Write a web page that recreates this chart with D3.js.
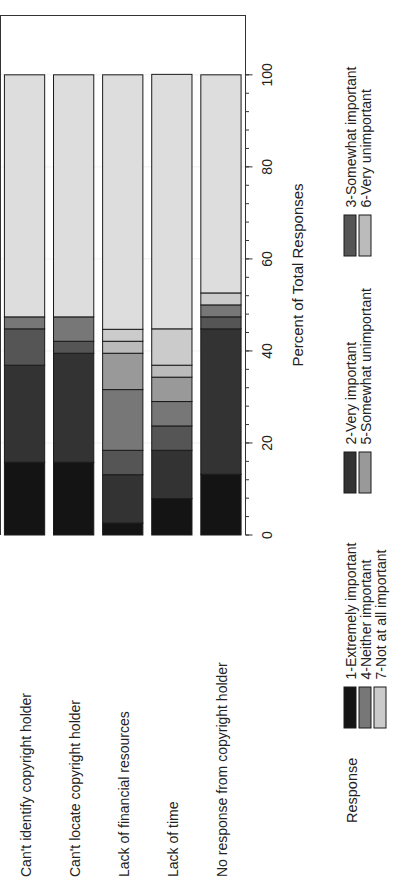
<!DOCTYPE html>
<html>
<head>
<meta charset="utf-8">
<script src="https://cdn.jsdelivr.net/npm/d3@7"></script>
<style>
  body { margin: 0; background: #fff; }
  text { font-family: "Liberation Sans", Arial, sans-serif; fill: #222; }
</style>
</head>
<body>
<svg id="chart"></svg>
<script>
// chart is drawn landscape, then turned -90deg to fit the portrait page
var W = 406, H = 889;

var categories = ["Can't identify copyright holder", "Can't locate copyright holder",
    "Lack of financial resources", "Lack of time", "No response from copyright holder"];

var responses = ["1-Extremely important", "2-Very important", "3-Somewhat important",
    "4-Neither important", "5-Somewhat unimportant", "6-Very unimportant",
    "7-Not at all important", "Missing"];

// percent of total responses, one array per response level
var r1 = [15.8, 15.8, 2.6, 7.9, 13.2];
var r2 = [21.1, 23.7, 10.5, 10.5, 31.6];
var r3 = [7.9, 2.6, 5.3, 5.3, 2.6];
var r4 = [2.6, 5.3, 13.2, 5.3, 2.6];
var r5 = [0, 0, 7.9, 5.3, 0];
var r6 = [0, 0, 2.6, 2.6, 0];
var r7 = [0, 0, 2.6, 7.9, 2.6];
var r8 = [52.6, 52.6, 55.3, 55.3, 47.4];

var majorTicks = [0, 20, 40, 60, 80, 100];

var colors = ["#141414", "#333333", "#555555", "#777777", "#999999", "#bbbbbb", "#cbcbcb", "#dddddd"];

var series = [r1, r2, r3, r4, r5, r6, r7, r8];
var table = categories.map(function(c, i) {
    var row = {cat: c};
    responses.forEach(function(r, k) { row[r] = series[k][i]; });
    return row;
});

var svg = d3.select('#chart')
    .attr('width', W)
    .attr('height', H);

var g = svg.append('g')
    .attr('transform', 'translate(0,' + H + ') rotate(-90)');

var x = d3.scaleLinear().domain([0, 113]).range([354, 874]);
var y = d3.scaleBand().domain(categories).range([0, 245.5])
    .paddingInner(0.18).paddingOuter(0.09);

// faint grid
g.append('g').selectAll('line')
    .data(majorTicks.slice(1))
    .enter().append('line')
    .attr('x1', function(d) { return x(d); })
    .attr('x2', function(d) { return x(d); })
    .attr('y1', 0).attr('y2', 245.5)
    .attr('stroke', '#f1f1f1');

var stack = d3.stack().keys(responses);
var layers = stack(table);

g.append('g').selectAll('g')
    .data(layers)
    .enter().append('g')
    .attr('fill', function(d, i) { return colors[i]; })
    .selectAll('rect')
    .data(function(d) { return d.filter(function(s) { return s[1] - s[0] > 0; }); })
    .enter().append('rect')
    .attr('x', function(d) { return x(d[0]); })
    .attr('width', function(d) { return x(d[1]) - x(d[0]); })
    .attr('y', function(d) { return y(d.data.cat); })
    .attr('height', y.bandwidth())
    .attr('stroke', '#1a1a1a')
    .attr('stroke-width', 1);

// frame (top, right, bottom)
var frame = g.append('g').attr('stroke', '#333').attr('fill', 'none');
frame.append('line').attr('x1', 354).attr('x2', 874).attr('y1', 0.5).attr('y2', 0.5);
frame.append('line').attr('x1', 873.5).attr('x2', 873.5).attr('y1', 0).attr('y2', 245.5);

// value axis
var axis = g.append('g').attr('transform', 'translate(0,245.5)');
axis.append('line').attr('x1', 354).attr('x2', 874).attr('stroke', '#333');
axis.selectAll('.minor')
    .data(d3.range(0, 101, 4))
    .enter().append('line')
    .attr('x1', function(d) { return x(d); })
    .attr('x2', function(d) { return x(d); })
    .attr('y2', 3.5)
    .attr('stroke', '#333');
axis.selectAll('.major')
    .data(majorTicks)
    .enter().append('line')
    .attr('x1', function(d) { return x(d); })
    .attr('x2', function(d) { return x(d); })
    .attr('y2', 7)
    .attr('stroke', '#333');
axis.selectAll('text')
    .data(majorTicks)
    .enter().append('text')
    .attr('x', function(d) { return x(d); })
    .attr('y', 26.5)
    .attr('text-anchor', 'middle')
    .attr('font-size', 14)
    .text(function(d) { return d; });

g.append('text')
    .attr('x', (354 + 874) / 2)
    .attr('y', 303)
    .attr('text-anchor', 'middle')
    .attr('font-size', 15)
    .text('Percent of Total Responses');

// category labels
g.append('g').selectAll('text')
    .data(categories)
    .enter().append('text')
    .attr('x', 12)
    .attr('y', function(d) { return y(d) + y.bandwidth() / 2 + 6.5; })
    .attr('font-size', 14)
    .text(function(d) { return d; });

// legend
var legend = g.append('g');
legend.append('text')
    .attr('x', 66).attr('y', 357)
    .attr('font-size', 14.5)
    .text('Response');

var colX = [161, 396, 633];
var item = legend.selectAll('.item')
    .data(responses.slice(0, 7))
    .enter().append('g')
    .attr('transform', function(d, i) {
        return 'translate(' + colX[i % 3] + ',' + (344 + 15 * Math.floor(i / 3)) + ')';
    });
item.append('rect')
    .attr('width', 41).attr('height', 12)
    .attr('fill', function(d, i) { return colors[i]; })
    .attr('stroke', '#1a1a1a');
item.append('text')
    .attr('x', 48.5).attr('y', 12)
    .attr('font-size', 14)
    .text(function(d) { return d; });
</script>
</body>
</html>
